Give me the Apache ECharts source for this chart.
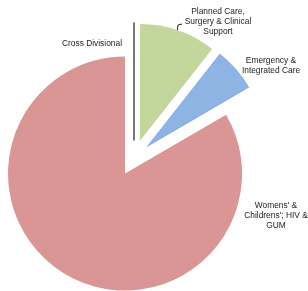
<!DOCTYPE html>
<html>
<head>
<meta charset="utf-8">
<script src="https://cdn.jsdelivr.net/npm/echarts@6/dist/echarts.min.js"></script>
<style>
  html, body { margin: 0; padding: 0; background: #fff; }
  #chart { width: 308px; height: 291px; }
</style>
</head>
<body>
<div id="chart"></div>
<script>
// slice names and values (share of total, %)
const categories = ['Cross Divisional', 'Planned Care,\nSurgery & Clinical\nSupport', 'Emergency &\nIntegrated Care', "Womens' &\nChildrens'; HIV &\nGUM"]
const values = [0, 10.6, 6.0, 83.4]
const colors = ['#ffffff', '#c3d69b', '#8eb4e3', '#d99694']

// label anchors, picked to match the original
const labelSpots = [
  { x: 122, y: 44, align: 'right' },
  { x: 218, y: 22, align: 'center' },
  { x: 271, y: 66, align: 'center' },
  { x: 276, y: 216, align: 'center' },
]

const pieCenter = [134, 158]
const pieRadius = 117
const explode = 18 // every slice pulled out by the same amount

const chart = echarts.init(document.getElementById('chart'))

const total = values.reduce((a, b) => a + b, 0)

// one pie per slice so each can be exploded along its own mid-angle
// (selected state in a single pie stops labelLayout from working)
let acc = 0
const series = values.map((v, i) => {
  const mid = 90 - (acc + v / 2) / total * 360
  acc += v
  const rad = mid * Math.PI / 180
  const cx = pieCenter[0] + explode * Math.cos(rad)
  const cy = pieCenter[1] - explode * Math.sin(rad)

  const data = categories.map((name, j) => {
    if (j !== i) {
      return {
        name: name,
        value: values[j],
        itemStyle: { color: 'rgba(0,0,0,0)' },
        label: { show: false },
      }
    }
    const item = { name: name, value: values[j], itemStyle: { color: colors[j] } }
    if (j === 0) {
      item.itemStyle.borderColor = '#4d4d4d'
      item.itemStyle.borderWidth = 1.5
    }
    if (j === 2) {
      item.itemStyle.borderColor = '#7f9ef5'
      item.itemStyle.borderWidth = 0.8
    }
    if (j === 1) {
      item.labelLine = { show: true, lineStyle: { color: '#222', width: 1 } }
    }
    return item
  })

  return {
    type: 'pie',
    center: [cx, cy],
    radius: pieRadius,
    startAngle: 90,
    clockwise: true,
    silent: true,
    avoidLabelOverlap: false,
    data: data,
    label: {
      show: true,
      position: 'outside',
      color: '#222',
      fontSize: 8.4,
      lineHeight: 10,
      overflow: 'none',
      fontFamily: 'Liberation Sans, Arial, sans-serif',
    },
    labelLine: { show: false },
    labelLayout: (params) => {
      const s = labelSpots[params.dataIndex]
      const out = { x: s.x, y: s.y, align: s.align, verticalAlign: 'middle' }
      if (params.dataIndex === 1) {
        out.labelLinePoints = [[177, 33], [178, 25], [182, 24]]
      }
      return out
    },
  }
})

chart.setOption({
  animation: false,
  series: series,
})
</script>
</body>
</html>
